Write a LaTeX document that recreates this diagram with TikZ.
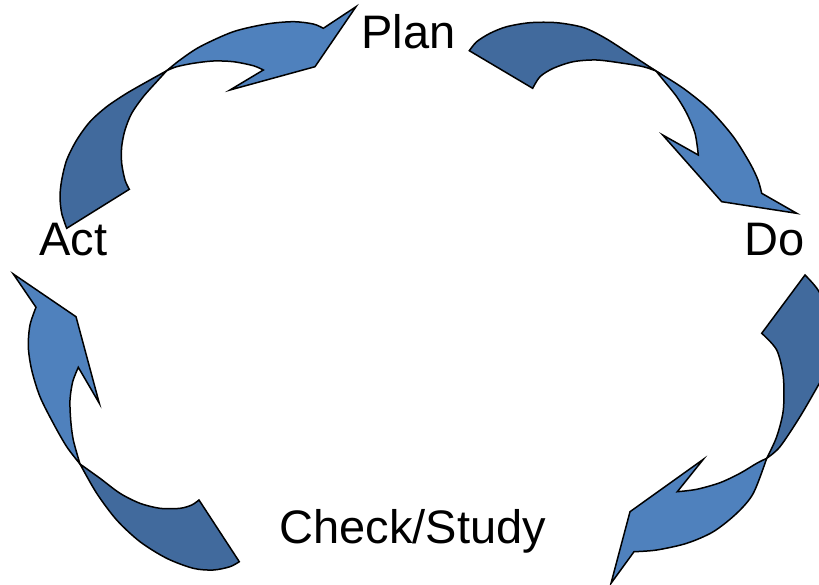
\documentclass[tikz,border=0pt]{standalone}
\usepackage{fontspec}
\setmainfont{Liberation Sans}
\definecolor{frontblue}{RGB}{79,129,189}
\definecolor{backblue}{RGB}{65,106,157}
\begin{document}
\begin{tikzpicture}[x=1pt,y=-1pt,
  back/.style={fill=backblue,draw=black,line width=1.5pt,line join=miter},
  front/.style={fill=frontblue,draw=black,line width=1.5pt,line join=miter},
  lbl/.style={anchor=base west,inner sep=0pt,font=\fontsize{47}{56}\selectfont}]
\useasboundingbox (0,0) rectangle (819,584);
\clip (0,0) rectangle (819,584);

% labels
\node[lbl] (plan)  at (361.3,48.3) {Plan};
\node[lbl] (do)    at (744.3,255) {Do};
\node[lbl] (check) at (279.4,543.3) {Check/Study};
\node[lbl] (act)   at (39,255) {Act};

% ---- Act -> Plan ----
\coordinate (aTo) at (66.7,228.3);
\coordinate (aTi) at (129.3,189.3);
\coordinate (aX)  at (166.7,70.7);
\coordinate (aN)  at (263.3,70);
\coordinate (aB)  at (230,90);
\coordinate (aC)  at (315,66.7);
\coordinate (aP)  at (356,6.7);
\coordinate (aE)  at (323.3,28.3);
\path[back] (aTo) -- plot[smooth] coordinates {(aTo) (61.7,213.3) (60,196.7) (61.7,180) (66.7,160) (76.7,140) (90,121.7) (106.7,106.7) (126.7,93.3) (150,80) (aX)}
  -- plot[smooth] coordinates {(aX) (156.7,81.7) (143.3,96.7) (131.7,113.3) (125,130) (121.7,146.7) (121.7,163.3) (125,180) (aTi)} -- cycle;
\path[front] (aX) -- plot[smooth] coordinates {(aX) (180,60) (200,46.7) (233.3,31.7) (266.7,24) (293.3,21.7) (313.3,24) (aE)}
  -- (aP) -- (aC) -- (aB) -- (aN)
  -- plot[smooth] coordinates {(aN) (253.3,65.7) (233.3,61.7) (213.3,61) (193.3,63.3) (176.7,66.7) (aX)} -- cycle;

% ---- Plan -> Do ----
\coordinate (bTo) at (469.3,50.7);
\coordinate (bTi) at (532.7,88.3);
\coordinate (bX)  at (656,71);
\coordinate (bN)  at (698.3,155);
\coordinate (bB)  at (662.7,135);
\coordinate (bC)  at (721.7,201.7);
\coordinate (bP)  at (796.7,213.3);
\coordinate (bE)  at (761.7,193.3);
\path[back] (bTo) -- plot[smooth] coordinates {(bTo) (476.7,41.7) (490,33.3) (506.7,26.7) (530,22.7) (556.7,22.7) (583.3,27.5) (605,38) (630,54) (bX)}
  -- plot[smooth] coordinates {(bX) (643.3,66.7) (623.3,63.3) (596.7,60) (573.3,61.7) (553.3,68.3) (540,76.7) (bTi)} -- cycle;
\path[front] (bX) -- plot[smooth] coordinates {(bX) (683.3,88.3) (710,110) (733.3,136.7) (750,163.3) (758,180) (bE)}
  -- (bP) -- (bC) -- (bB) -- (bN)
  -- plot[smooth] coordinates {(bN) (695,133.3) (686.7,113.3) (676.7,96.7) (663.3,80) (bX)} -- cycle;

% ---- Do -> Check/Study ----
\coordinate (cTo) at (805,275);
\coordinate (cTi) at (761.7,333.3);
\coordinate (cX)  at (766.7,458.3);
\coordinate (cN)  at (677.3,491.7);
\coordinate (cB)  at (703.3,459.3);
\coordinate (cC)  at (630,511.7);
\coordinate (cP)  at (611,583.3);
\coordinate (cE)  at (634,551.7);
\path[back] (cTo) -- plot[smooth] coordinates {(cTo) (818,290) (830,315) (834,345) (828,368) (819,384) (800,416.7) (780,446.7) (cX)}
  -- plot[smooth] coordinates {(cX) (776.7,436.7) (783.3,410) (783.3,376.7) (776.7,350) (cTi)} -- cycle;
\path[front] (cX) -- plot[smooth] coordinates {(cX) (753.3,493.3) (736.7,513.3) (713.3,531.7) (686.7,543.3) (656.7,550) (cE)}
  -- (cP) -- (cC) -- (cB) -- (cN)
  -- plot[smooth] coordinates {(cN) (696.7,489.3) (720,482.7) (740,473.3) (756.7,463.3) (cX)} -- cycle;

% ---- Check/Study -> Act ----
\coordinate (dTo) at (239.3,561.7);
\coordinate (dTi) at (199,500);
\coordinate (dX)  at (80,464);
\coordinate (dN)  at (78.3,367.3);
\coordinate (dB)  at (99.3,403.3);
\coordinate (dC)  at (76,316.7);
\coordinate (dP)  at (13.3,274);
\coordinate (dE)  at (36,307.3);
\path[back] (dTo) -- plot[smooth] coordinates {(dTo) (230,566.7) (213.3,570) (193.3,568.3) (166.7,558.3) (140,541.7) (116.7,520) (96.7,493.3) (dX)}
  -- plot[smooth] coordinates {(dX) (100,478.3) (120,493.3) (140,503.3) (160,508.3) (180,508.3) (191.7,505) (dTi)} -- cycle;
\path[front] (dX) -- plot[smooth] coordinates {(dX) (66.7,446.7) (53.3,423.3) (40,396.7) (31.7,370) (28.3,346.7) (30,325) (dE)}
  -- (dP) -- (dC) -- (dB) -- (dN)
  -- plot[smooth] coordinates {(dN) (72.7,381.7) (70,400) (70.7,420) (73.3,440) (dX)} -- cycle;
\end{tikzpicture}
\end{document}
